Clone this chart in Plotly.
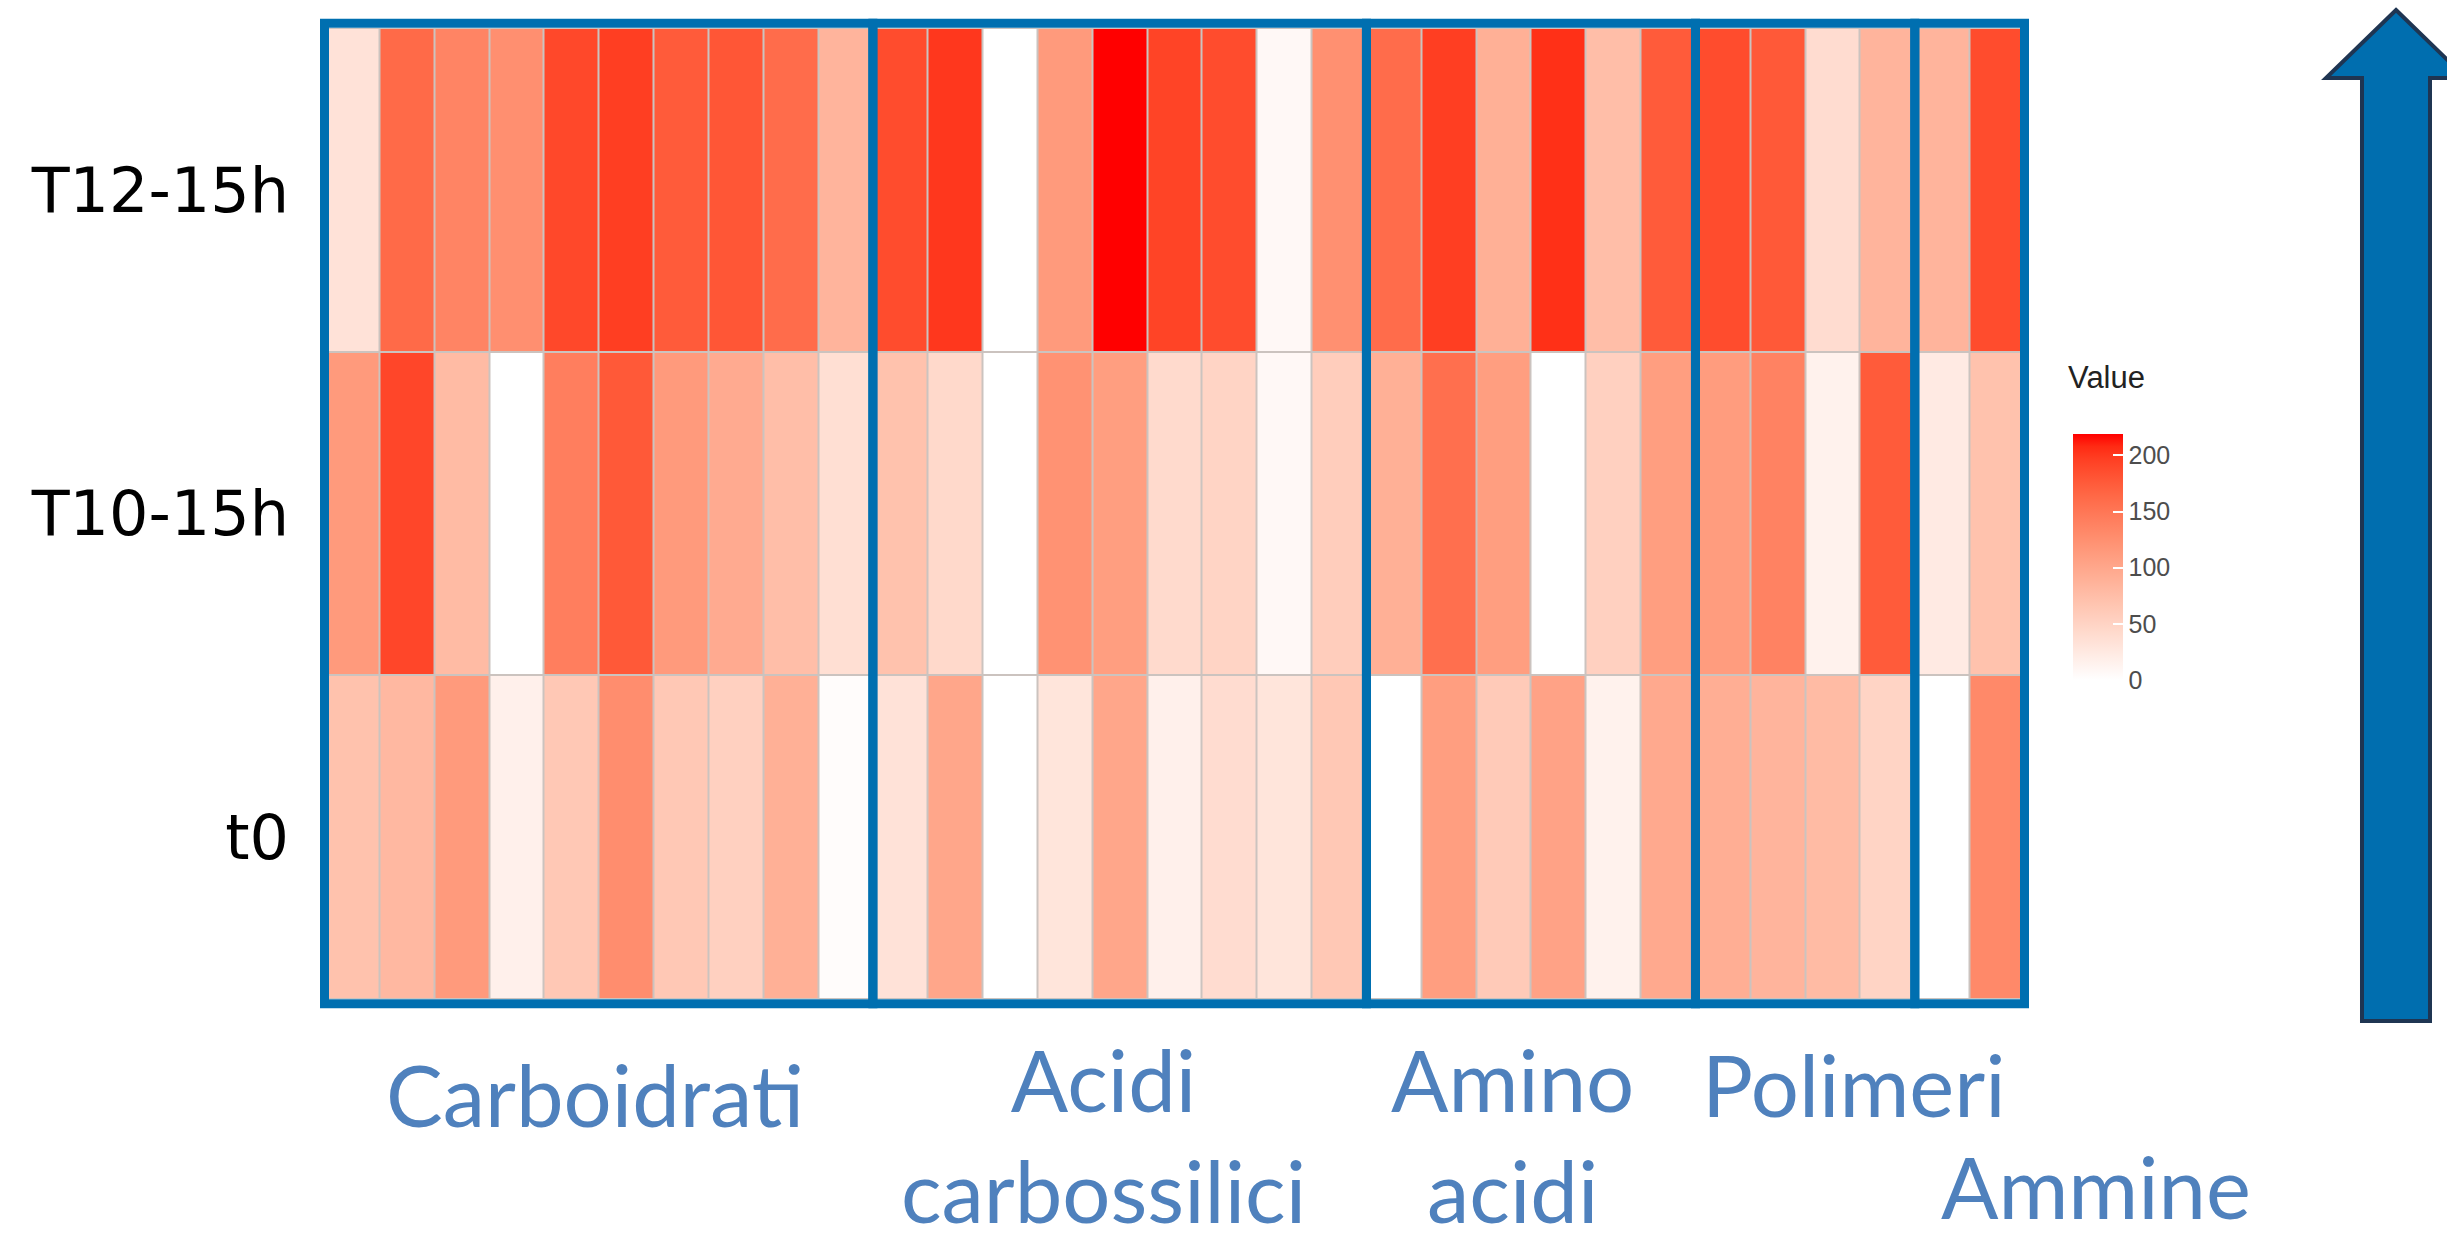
import numpy as np
import plotly.graph_objects as go

# ---------------- data ----------------
row_labels = ["t0", "T10-15h", "T12-15h"]
group_names = ["Carboidrati", "Acidi carbossilici", "Amino acidi", "Polimeri", "Ammine"]
group_sizes = [10, 9, 6, 4, 2]

values_t0 = [70, 81, 114, 17, 63, 127, 63, 54, 90, 3,
             33, 101, 0, 30, 101, 17, 40, 30, 63,
             0, 110, 61, 105, 15, 98,
             92, 85, 78, 49,
             0, 131]
values_t10 = [114, 191, 78, 0, 142, 177, 114, 96, 75, 37,
              70, 44, 0, 122, 110, 42, 49, 8, 57,
              90, 157, 110, 0, 54, 110,
              112, 138, 15, 175,
              24, 70]
values_t12 = [33, 162, 136, 125, 190, 197, 175, 179, 160, 85,
              187, 201, 0, 114, 219, 193, 187, 8, 124,
              160, 197, 90, 205, 75, 175,
              187, 177, 40, 85,
              85, 187]

colorbar_ticks = [0, 50, 100, 150, 200]
colorbar_title = "Value"
value_min, value_max = 0, 219

# ---------------- derived ----------------
columns = [f"{g} {i + 1}" for g, n in zip(group_names, group_sizes) for i in range(n)]
z = [values_t0, values_t10, values_t12]

# ggplot-like white -> red gradient interpolated in CIELAB
def lab_to_hex(L, a, b):
    fy = (L + 16) / 116
    fx = fy + a / 500
    fz = fy - b / 200
    def finv(t):
        return t ** 3 if t ** 3 > 0.008856 else (t - 16 / 116) / 7.787
    X, Y, Z = 0.95047 * finv(fx), finv(fy), 1.08883 * finv(fz)
    rl = 3.2406 * X - 1.5372 * Y - 0.4986 * Z
    gl = -0.9689 * X + 1.8758 * Y + 0.0415 * Z
    bl = 0.0557 * X - 0.2040 * Y + 1.0570 * Z
    def gam(c):
        c = min(max(c, 0), 1)
        return 12.92 * c if c <= 0.0031308 else 1.055 * c ** (1 / 2.4) - 0.055
    return "#%02x%02x%02x" % tuple(int(round(gam(c) * 255)) for c in (rl, gl, bl))

white_lab = np.array([100.0, 0.0, 0.0])
red_lab = np.array([53.2408, 80.0925, 67.2032])
colorscale = [[float(t), lab_to_hex(*(white_lab + t * (red_lab - white_lab)))]
              for t in np.linspace(0, 1, 21)]

# ---------------- layout geometry (pixels) ----------------
W, H = 2447, 1244
ML, MR, MT, MB = 320, 418, 28, 245
PW, PH = W - ML - MR, H - MT - MB

def px(xp):
    return (xp - ML) / PW

def py(yp):
    return (H - MB - yp) / PH

fig = go.Figure()
fig.add_trace(go.Heatmap(
    z=z, x=columns, y=row_labels,
    zmin=value_min, zmax=value_max,
    colorscale=colorscale,
    xgap=2, ygap=2,
    colorbar=dict(
        tickvals=colorbar_ticks,
        tickfont=dict(family="Liberation Sans", size=25, color="#4D4D4D"),
        ticks="inside", ticklen=10, tickcolor="white", tickwidth=2,
        thickness=50, thicknessmode="pixels",
        len=246, lenmode="pixels",
        x=px(2073), xanchor="left", xpad=0,
        y=py(680), yanchor="bottom", ypad=0,
        outlinewidth=0,
    ),
    hoverinfo="x+y+z",
))

# group boxes
shapes = []
start = 0
for n in group_sizes:
    shapes.append(dict(type="rect", xref="x", yref="paper",
                       x0=start - 0.5, x1=start + n - 0.5,
                       y0=-0.005, y1=1.005,
                       line=dict(color="#006FB0", width=9),
                       fillcolor="rgba(0,0,0,0)", layer="above"))
    start += n

# big arrow on the right
pts = [(2396, 10), (2466, 78), (2430, 78), (2430, 1021),
       (2362, 1021), (2362, 78), (2326, 78)]
path = "M " + " L ".join(f"{px(a):.5f},{py(b):.5f}" for a, b in pts) + " Z"
shapes.append(dict(type="path", xref="paper", yref="paper", path=path,
                   fillcolor="#006EAF", line=dict(color="#1F3552", width=4),
                   layer="above"))

# category labels under the heatmap
label_font = dict(family="Lato", size=85, color="#4F81BD")
label_pos = [
    ("Carboidrati", 595, 1094),
    ("Acidi<br>carbossilici", 1103, 1134),
    ("Amino<br>acidi", 1512, 1134),
    ("Polimeri", 1854, 1084),
    ("Ammine", 2096, 1186),
]
annotations = [dict(text=t, x=px(xp), y=py(yp), xref="paper", yref="paper",
                    xanchor="center", yanchor="middle", showarrow=False,
                    font=label_font)
               for t, xp, yp in label_pos]
annotations.append(dict(text=colorbar_title, x=px(2066), y=py(378),
                        xref="paper", yref="paper", xanchor="left",
                        yanchor="middle", showarrow=False,
                        font=dict(family="Liberation Sans", size=31, color="#222222")))

fig.update_layout(
    width=W, height=H, autosize=False,
    margin=dict(l=ML, r=MR, t=MT, b=MB, pad=0),
    paper_bgcolor="white",
    plot_bgcolor="#CBC3BF",
    shapes=shapes,
    annotations=annotations,
    xaxis=dict(showticklabels=False, ticks="", showgrid=False, zeroline=False,
               showline=False),
    yaxis=dict(categoryorder="array", categoryarray=row_labels,
               tickfont=dict(family="DejaVu Sans", size=62, color="black"),
               ticks="", showgrid=False, zeroline=False, showline=False,
               ticklabelstandoff=30),
)

fig.write_html("out.html", config={"displayModeBar": False},
               post_script="document.body.style.margin='0px';document.body.style.overflow='hidden';")
